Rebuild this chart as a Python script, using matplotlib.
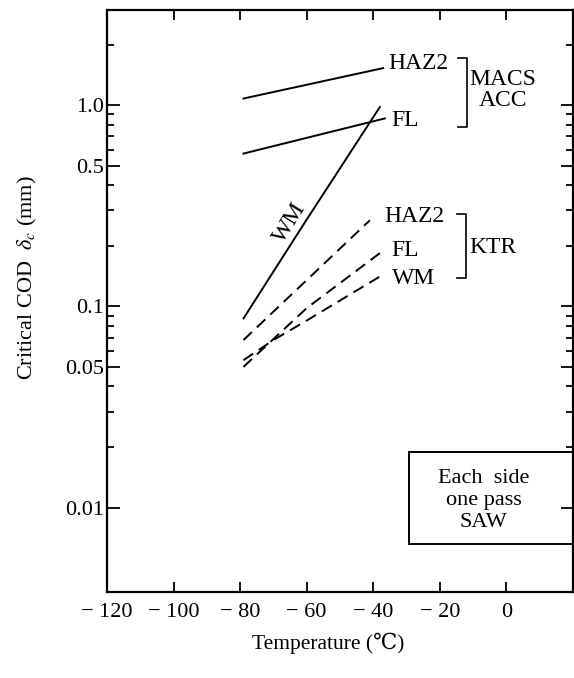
import matplotlib
matplotlib.use('Agg')
import matplotlib.pyplot as plt
from matplotlib.patches import Rectangle

plt.rcParams['font.family'] = ['Liberation Serif', 'DejaVu Serif']
plt.rcParams['mathtext.fontset'] = 'stix'

# Datos
# MACS ACC (lineas continuas)
macs_haz2_t = [-79, -37]
macs_haz2_cod = [1.08, 1.53]
macs_fl_t = [-79, -36.5]
macs_fl_cod = [0.575, 0.86]
macs_wm_t = [-79, -60, -38]
macs_wm_cod = [0.087, 0.27, 0.98]

# KTR (lineas discontinuas)
ktr_haz2_t = [-79, -41]
ktr_haz2_cod = [0.068, 0.268]
ktr_fl_t = [-79, -60, -38]
ktr_fl_cod = [0.050, 0.098, 0.184]
ktr_wm_t = [-79, -70, -60, -37]
ktr_wm_cod = [0.054, 0.068, 0.085, 0.144]

x_ticks = [-120, -100, -80, -60, -40, -20, 0]
x_labels = ['\u2212 120', '\u2212 100', '\u2212 80', '\u2212 60', '\u2212 40', '\u2212 20', '0']
y_ticks = [0.01, 0.05, 0.1, 0.5, 1.0]
y_labels = ['0.01', '0.05', '0.1', '0.5', '1.0']
y_minor = [0.02, 0.03, 0.04, 0.06, 0.07, 0.08, 0.09,
           0.2, 0.3, 0.4, 0.6, 0.7, 0.8, 0.9, 2.0]

fig = plt.figure(figsize=(5.74, 6.78), dpi=100)
ax = fig.add_axes([0.1864, 0.1268, 0.8116, 0.8582])

lw = 1.4
ax.plot(macs_haz2_t, macs_haz2_cod, color='black', lw=lw)
ax.plot(macs_fl_t, macs_fl_cod, color='black', lw=lw)
ax.plot(macs_wm_t, macs_wm_cod, color='black', lw=lw)
ax.plot(ktr_haz2_t, ktr_haz2_cod, color='black', lw=lw, dashes=(6, 3.5))
ax.plot(ktr_fl_t, ktr_fl_cod, color='black', lw=lw, dashes=(6, 3.5))
ax.plot(ktr_wm_t, ktr_wm_cod, color='black', lw=lw, dashes=(6, 3.5))

ax.set_yscale('log')
ax.set_xlim(-120, 20)
ax.set_ylim(0.0038, 2.97)

ax.set_xticks(x_ticks)
ax.set_xticklabels(x_labels)
ax.set_yticks(y_ticks)
ax.set_yticklabels(y_labels)
ax.set_yticks(y_minor, minor=True)
ax.set_yticklabels([], minor=True)
ax.set_xticks([], minor=True)

ax.tick_params(which='both', direction='in', top=True, right=True, labelsize=16, width=1.3)
ax.tick_params(axis='y', which='major', length=9, pad=2)
ax.tick_params(axis='y', which='minor', length=5)
ax.tick_params(axis='x', which='major', length=7, pad=8)
for s in ax.spines.values():
    s.set_linewidth(1.6)

ax.set_ylabel(r'Critical COD  $\delta_c$ (mm)', fontsize=16)
ax.yaxis.set_label_coords(-0.145, 0.54)
ax.set_xlabel('Temperature (\u2103)', fontsize=15.5)
ax.xaxis.set_label_coords(0.474, -0.07)

# Etiquetas de las curvas
fs = 17
ax.text(-35.5, 1.62, 'HAZ2', fontsize=fs, va='center', ha='left')
ax.text(-34.5, 0.84, 'FL', fontsize=fs, va='center', ha='left')
ax.text(-36.5, 0.28, 'HAZ2', fontsize=fs, va='center', ha='left')
ax.text(-34.5, 0.19, 'FL', fontsize=fs, va='center', ha='left')
ax.text(-34.5, 0.137, 'WM', fontsize=fs, va='center', ha='left')
ax.text(-65, 0.26, 'WM', fontsize=fs, va='center', ha='center', rotation=58)

# Corchetes
ax.plot([-14.5, -11.8, -11.8, -14.5], [1.71, 1.71, 0.78, 0.78], color='black', lw=1.2)
ax.text(-1, 1.35, 'MACS', fontsize=fs, va='center', ha='center')
ax.text(-1, 1.05, 'ACC', fontsize=fs, va='center', ha='center')
ax.plot([-14.8, -12.1, -12.1, -14.8], [0.287, 0.287, 0.139, 0.139], color='black', lw=1.2)
ax.text(-4, 0.197, 'KTR', fontsize=fs, va='center', ha='center')

# Recuadro
ax.add_patch(Rectangle((-29.3, 0.00662), 49.3, 0.0188 - 0.00662,
                       fill=False, edgecolor='black', lw=1.4, clip_on=False))
ax.text(-6.8, 0.0108, 'Each  side\none pass\nSAW', fontsize=16, va='center',
        ha='center', linespacing=1.2)

plt.savefig('out.png', dpi=100)
